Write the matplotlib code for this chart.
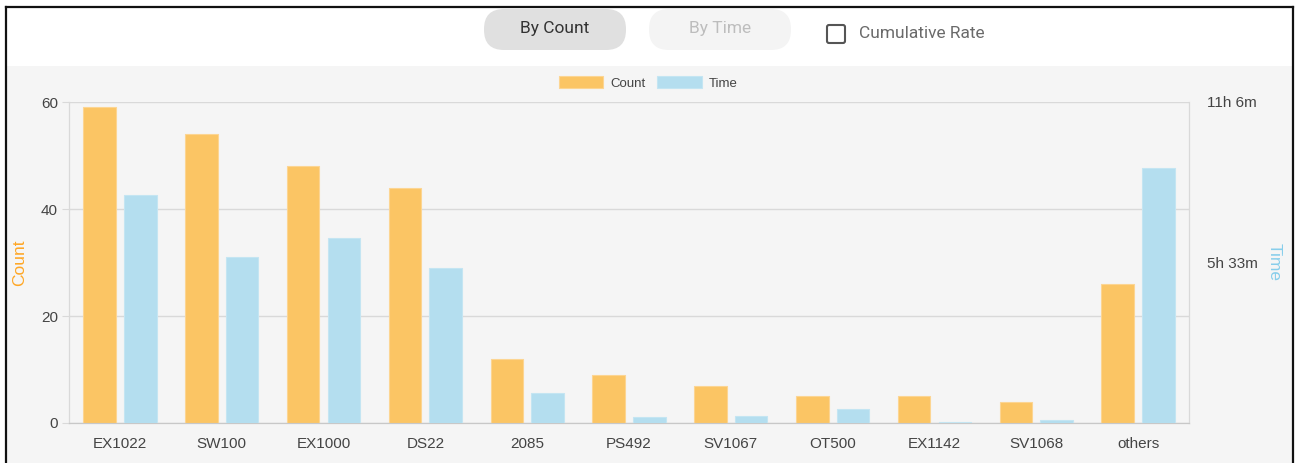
'''
    Count and time per category, as paired bars on twin axes,
    with the toggle bar drawn above the chart panel.
'''

import numpy as np
import matplotlib
matplotlib.use('Agg')
import matplotlib.pyplot as plt
from matplotlib.patches import FancyBboxPatch, Rectangle


categories = ['EX1022', 'SW100', 'EX1000', 'DS22', '2085', 'PS492',
              'SV1067', 'OT500', 'EX1142', 'SV1068', 'others']
counts = [59, 54, 48, 44, 12, 9, 7, 5, 5, 4, 26]
# time per category, in minutes
time_minutes = [473, 344, 384, 321, 63, 13, 14, 29, 3, 7, 530]

count_ticks = [0, 20, 40, 60]
time_ticks = [333, 666]
time_tick_labels = ['5h 33m', '11h 6m']

ORANGE = '#fbc564'
BLUE = '#b4deef'
GRID = '#d9d9d9'
TEXT = '#444444'

W, H = 1300, 463


def draw_frame(fig):
    ''' Background panel, border and the toggle controls (pixel coords) '''
    bg = fig.add_axes([0, 0, 1, 1], zorder=-1)
    bg.set_xlim(0, W)
    bg.set_ylim(H, 0)
    bg.axis('off')
    bg.add_patch(Rectangle((6, 66), 1287, 400, color='#f5f5f5', lw=0))
    # border
    bg.plot([6, 6], [7, H], color='#111111', lw=1.6)
    bg.plot([6, 1293], [7, 7], color='#111111', lw=1.6)
    bg.plot([1293, 1293], [7, H], color='#111111', lw=1.6)
    # pill buttons
    for x0, fc in [(484, '#e0e0e0'), (649, '#f4f4f4')]:
        bg.add_patch(FancyBboxPatch((x0, 9), 142, 41,
                                    boxstyle='round,pad=0,rounding_size=20',
                                    fc=fc, ec='none'))
    bg.text(555, 29, 'By Count', ha='center', va='center',
            family='Roboto', fontsize=12.5, color='#333333')
    bg.text(720, 29, 'By Time', ha='center', va='center',
            family='Roboto', fontsize=12.5, color='#bdbdbd')
    # checkbox
    bg.add_patch(FancyBboxPatch((827, 25), 18, 18,
                                boxstyle='round,pad=0,rounding_size=2',
                                fc='white', ec='#555555', lw=1.5))
    bg.text(859, 34, 'Cumulative Rate', ha='left', va='center',
            family='Roboto', fontsize=12.5, color='#6a6a6a')


def plot_chart(save_as='out.png'):
    plt.rcParams['font.family'] = ['Liberation Sans', 'DejaVu Sans']
    fig = plt.figure(figsize=(W / 100, H / 100), dpi=100)
    draw_frame(fig)

    ax = fig.add_axes([69 / W, 40 / H, 1120 / W, 321 / H])
    ax.set_facecolor('none')
    ax2 = ax.twinx()

    x = np.arange(len(categories))
    bw = 0.32
    b1 = ax.bar(x - 0.2, counts, bw, color=ORANGE, edgecolor='#fcd592',
                lw=0.8, zorder=3)
    b2 = ax2.bar(x + 0.2, time_minutes, bw, color=BLUE, edgecolor='#c4e5f2',
                 lw=0.8, zorder=3)

    ax.set_xlim(-0.5, len(categories) - 0.5)
    ax.set_ylim(0, 60)
    ax2.set_ylim(0, 666)

    ax.set_yticks(count_ticks)
    ax.yaxis.grid(True, color=GRID, lw=1, zorder=0)
    ax.set_axisbelow(True)
    ax.tick_params(axis='y', length=5, color=GRID, labelcolor=TEXT,
                   labelsize=11, pad=3)
    ax.set_xticks(x)
    ax.set_xticklabels(categories)
    ax.tick_params(axis='x', length=0, pad=10, labelsize=11, colors=TEXT)

    ax2.set_yticks(time_ticks)
    ax2.set_yticklabels(time_tick_labels)
    ax2.tick_params(axis='y', length=0, pad=13, labelsize=11, colors=TEXT)

    for a in (ax, ax2):
        a.spines['top'].set_visible(False)
        a.spines['left'].set_color(GRID)
        a.spines['right'].set_color(GRID)
        a.spines['bottom'].set_color('#c8c8c8')

    ax.set_ylabel('Count', color='#ffa726', fontsize=12.5, labelpad=10)
    ax2.set_ylabel('Time', color='#87ceeb', fontsize=12.5, rotation=270,
                   labelpad=17)

    leg = fig.legend([b1, b2], ['Count', 'Time'], loc='center',
                     bbox_to_anchor=(648 / W, 1 - 83 / H), ncol=2,
                     frameon=False, fontsize=9.5, handlelength=3.4,
                     handleheight=1.0, handletextpad=0.5, columnspacing=0.9)
    for t in leg.get_texts():
        t.set_color(TEXT)

    fig.savefig(save_as, dpi=100)


if __name__ == '__main__':
    plot_chart()
